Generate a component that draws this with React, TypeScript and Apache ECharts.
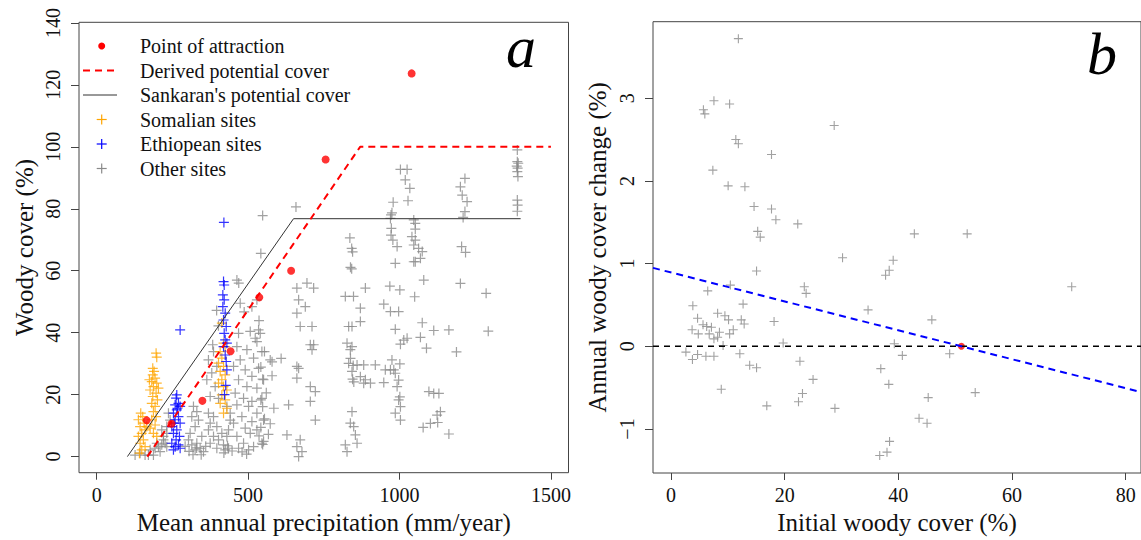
import React, { useEffect, useRef } from "react";
import * as echarts from "echarts";

// ---------- Panel a data ----------
const X_TICKS_A = [0, 500, 1000, 1500];
const Y_TICKS_A = [0, 20, 40, 60, 80, 100, 120, 140];

const ATTRACTION_POINTS: [number, number][] = [
  [165, 11.7], [247, 10.6], [349, 18], [442, 34], [537, 51.4], [642, 60], [756, 95.9], [1040, 123.7],
];
const DERIVED_COVER: [number, number][] = [[167, 0], [870, 100], [1500, 100]];
const SANKARAN_COVER: [number, number][] = [[101.4, 0], [650, 76.8], [1400, 76.8]];

const SOMALIAN_SITES: [number, number][] = [
  [196.1, 33.4], [198.3, 32.1], [185.1, 26.4], [192.8, 25.3], [181.8, 24.2], [198.3, 23.7], [187.3, 22.6],
  [176.3, 21.5], [196.1, 20.5], [185.1, 19.4], [200.5, 18.3], [181.8, 17.2], [192.8, 16.2], [187.3, 14.5],
  [196.1, 12.9], [181.8, 11.9], [192.8, 10.2], [176.3, 9.2], [187.3, 7.5], [198.3, 6.5], [203.8, 22.1],
  [174, 24.8], [189.5, 27.5], [185.1, 28.5],
  [145.4, 14], [152, 12.9], [137.7, 11.9], [156.4, 10.8], [143.2, 9.7], [159.7, 8.6], [148.7, 7.5],
  [137.7, 6.5], [154.2, 5.4], [143.2, 4.3], [159.7, 3.2], [148.7, 2.2], [141, 1.1], [165.2, 9.7],
  [418.8, 36.6], [424.3, 35.5], [407.7, 33.9], [413.2, 31.8], [402.2, 30.2], [418.8, 29.1], [407.7, 27.5],
  [424.3, 26.4], [413.2, 24.8], [402.2, 23.7], [418.8, 22.6], [429.8, 21.5], [413.2, 19.9], [424.3, 18.3],
  [407.7, 17.2], [429.8, 15.6], [418.8, 14], [413.2, 43.1],
];

const ETHIOPIAN_SITES: [number, number][] = [
  [264.4, 19.9], [262.2, 18.9], [270, 17.2], [259, 16.7], [275.5, 16.2], [264.4, 15.1], [253.4, 14],
  [270, 12.9], [259, 11.9], [275.5, 10.8], [247.9, 9.7], [264.4, 8.6], [253.4, 7.5], [273.3, 6.5],
  [262.2, 5.4], [247.9, 4.3], [270, 3.8], [259, 3.2], [275.5, 2.7], [253.4, 2.2], [266.6, 15.6], [255.6, 10.8],
  [275.5, 40.9],
  [420, 75.6], [418.8, 56.5], [421, 55.4], [416.5, 52.2], [421, 50.6], [416.5, 48.4], [424.3, 46.3],
  [418.8, 44.1], [427.6, 42], [421, 39.8], [424.3, 37.7], [429.8, 36.6], [418.8, 35.5], [424.3, 32.8],
  [427.6, 30.7], [429.8, 28], [426, 23], [422, 20],
];

const OTHER_SITES: [number, number][] = [
  [126.7, 0.5], [143.2, 1.1], [159.7, 0.5], [176.3, 2.2], [192.8, 2.7], [203.8, 3.2], [214.8, 3.8],
  [225.9, 4.3], [209.3, 1.6], [187.3, 0.5], [231.4, 3.2], [170.7, 0.5], [220.4, 5.4], [198.3, 4.3],
  [214.8, 8.6], [231.4, 7.5], [220.4, 6.5], [236.9, 14], [242.4, 11.8], [231.4, 9.7],
  [319.5, 16.2], [330.6, 14.5], [314, 12.9], [336, 11.8], [325, 9.7], [308.5, 7.5], [347, 6.5],
  [330.6, 4.3], [314, 3.8], [341.6, 2.7], [303, 5.4], [325, 2.2], [352.6, 1.6],
  [292, 3.3], [305, 1.7], [318, 0.6], [330, 2.8], [345, 0.6], [360, 3.3],
  [369, 14], [385.7, 12.9], [374.7, 10.8], [396.7, 9.7], [369, 8.6], [385.7, 6.5], [402.2, 5.4],
  [418.7, 3.8], [374.7, 4.3], [396.7, 2.7], [424.3, 2.2], [435.3, 2.7], [385.7, 33.9], [369, 31.2],
  [396.7, 29.1], [380, 27], [363.6, 24.8], [391.2, 22.6], [374.7, 19.4], [402.2, 18.8], [429.8, 16.2],
  [440.8, 11.8], [435.3, 8.6], [413.2, 7.5], [429.8, 6.5], [440.8, 14], [396, 47.2], [402, 42.2], [383, 36.1],
  [420, 1.2], [432, 3.5], [447, 1.8], [480, 1.5], [495, 0.8],
  [468.4, 39.8], [507, 40.4], [534.5, 40.9], [529, 37.1], [462.9, 35.5], [496, 34.5], [545.5, 33.9],
  [473.9, 31.2], [518, 31.8], [573, 31.2], [451.8, 29.1], [490.4, 28], [534.5, 28.5], [512.5, 25.9],
  [468.4, 24.8], [551, 24.8], [496, 22.6], [529, 22.1], [457.3, 20.5], [484.9, 18.8], [512.5, 17.8],
  [545.5, 18.8], [462.9, 16.7], [501.5, 16.2], [529, 14], [479.4, 12.9], [512.5, 11.3], [551, 11.8],
  [451.8, 10.8], [490.4, 9.2], [529, 8.6], [507, 7.5], [462.9, 6.5], [545.5, 4.3], [484.9, 4.3],
  [518, 3.2], [468.4, 2.7], [501.5, 2.2], [551, 4.9], [523.5, 38.2], [540, 39.8], [548, 25], [560, 20.6],
  [542, 18.3], [585, 15.6], [554, 12.2], [573, 10.6], [567, 7.2], [548, 3.9], [536, 6.7], [542, 9.4],
  [548, 16.1], [579, 30.6], [554, 33.9], [542, 28.9], [579, 26.1], [609, 31.7], [473.9, 49.5],
  [512.5, 48.4], [529, 50.6], [536, 43.9], [487, 46.7], [463, 57], [469, 56], [548, 77.8], [542, 65.6],
  [658, 80.6], [661, 54.4], [694.3, 56], [716.4, 54.4], [666.8, 50.6], [688.8, 48.4], [661, 46.3],
  [672, 42], [711, 42], [705.4, 36.1], [716.4, 36.1], [711, 34.5], [661, 29.1], [666.8, 28.5], [661, 25.3],
  [705.4, 22.6], [721.9, 21], [705.4, 17.8], [721.9, 11.8], [633.7, 16.7], [628.2, 7], [672, 5.4],
  [661, 3.2], [677.8, 1.6], [666.8, 0],
  [821, 51.7], [848, 51.7], [870.7, 47.9], [887.2, 54.4], [832, 42], [843, 42], [870.7, 43.6],
  [826.6, 36.6], [843, 35.5], [837.6, 34.5], [859.7, 29.6], [881.7, 29.6], [832, 30.1], [843, 27.5],
  [870.7, 25.8], [881.7, 23.7], [887.2, 24.8], [843, 14.5], [837.6, 10.8], [848.6, 9.7], [854.2, 7],
  [859.7, 4.3], [821, 3.8], [826.6, 1.6], [836, 70.6], [842, 67.2], [845, 66.1], [838, 61.1], [842, 60.6],
  [838, 31.7], [847, 29.4], [845, 25], [849, 24.1],
  [1003, 92.7], [1025, 92.7], [1019, 89.3], [1034, 86.6], [1028, 82.6], [979, 82.1], [975, 78.7],
  [972, 78], [970, 76.9], [1047, 76.4], [1052, 75.3], [1052, 73.4], [973, 73.7], [972, 71.5], [978, 69.9],
  [992, 67.8], [1041, 71], [1052, 69.9], [1047, 68.3], [1063, 67.2], [1075, 66.2], [1069, 64],
  [1052, 62.9], [1047, 62.9], [986, 62.4], [1080, 57], [968, 55], [1001, 53.8], [1050, 51.6], [948, 49.2],
  [970, 46.8], [997, 46.8], [986, 41.1], [1075, 43.2], [1113, 40.7], [1163, 40.9], [1293, 40.5],
  [1286, 52.7], [1201, 55.9], [1205, 67.8], [1218, 65.9], [1216, 89.8], [1201, 87.1], [1207, 84.4],
  [1223, 82.3], [1216, 79.1], [1210, 77.2], [1014, 37.6], [1003, 36.3], [1025, 38.2], [1069, 38.5],
  [1089, 35], [1188, 33.8], [975, 31.2], [1001, 29.9], [981, 28], [986, 26.9], [997, 24.7], [992, 22.6],
  [1001, 19.3], [997, 18.3], [1003, 16.1], [986, 14], [1003, 11.8], [920, 29.6], [904, 23.7], [948, 23.9],
  [953, 28], [970, 28], [1097, 21], [1113, 20.4], [1130, 20.4], [1135, 14.5], [1124, 13.4], [1126, 11],
  [1102, 10.7], [1078, 9.4], [1163, 7.3],
  [1389, 99], [1389, 95.2], [1392, 94.7], [1387, 93.8], [1390, 93.1], [1389, 92], [1391, 90.4],
  [1389, 82.8], [1390, 81.2], [1389, 79.2],
];

// ---------- Panel b data ----------
const X_TICKS_B = [0, 20, 40, 60, 80];
const Y_TICKS_B = [-1, 0, 1, 2, 3];

const COVER_CHANGE: [number, number][] = [
  [11.86, 3.72], [5.71, 2.86], [5.96, 2.81], [7.56, 2.97], [10.32, 2.93], [28.72, 2.67], [11.41, 2.5],
  [11.86, 2.45], [17.69, 2.32], [7.37, 2.13], [10.06, 1.94], [13.01, 1.93], [14.62, 1.69], [17.69, 1.66],
  [18.46, 1.53], [22.31, 1.48], [15.26, 1.39], [15.71, 1.32], [42.82, 1.36], [52.12, 1.36], [30.19, 1.07],
  [39.1, 1.04], [38.4, 0.92], [37.76, 0.86], [15.06, 0.91], [70.51, 0.72], [10.45, 0.74], [6.47, 0.67],
  [23.46, 0.72], [23.78, 0.64], [3.85, 0.49], [12.69, 0.51], [34.68, 0.44], [4.68, 0.34], [8.21, 0.4],
  [9.49, 0.37], [10.13, 0.32], [12.37, 0.32], [12.88, 0.27], [18.14, 0.3], [45.9, 0.32], [3.72, 0.2],
  [5.64, 0.26], [6.28, 0.24], [7.12, 0.23], [4.81, 0.15], [6.73, 0.15], [8.53, 0.17], [10.96, 0.2],
  [7.56, 0.09], [8.21, 0.11], [10.32, 0.15], [19.74, 0.04], [9.17, 0.01], [39.3, 0.03], [2.63, -0.07],
  [3.78, -0.16], [4.68, -0.1], [6.15, -0.12], [7.56, -0.12], [12.12, -0.09], [40.71, -0.11], [49.04, -0.09],
  [22.69, -0.18], [13.85, -0.23], [15.06, -0.26], [36.92, -0.27], [25.0, -0.4], [38.33, -0.46],
  [8.85, -0.52], [53.53, -0.56], [23.14, -0.57], [22.44, -0.67], [16.86, -0.72], [28.85, -0.75],
  [45.26, -0.62], [43.65, -0.87], [45.06, -0.93], [38.46, -1.15], [38.01, -1.28], [36.73, -1.32],
];
const EQUILIBRIUM_POINT: [number, number][] = [[51.1, 0]];
const TREND_LINE: [number, number][] = [[-3.16, 0.948], [82.7, -0.553]];
const ZERO_LINE: [number, number][] = [[-3.16, 0], [82.7, 0]];

const FONT = "'Liberation Serif', 'Times New Roman', serif";
const PLUS = "path://M0,5L10,5M5,0L5,10";
const GRAY = "#8a8a8a";
const ORANGE = "#ffa500";
const BLUE = "#0000ff";
const RED = "#ff0000";
const AXIS_COLOR = "#444";

const fmt = (v: number) => (v < 0 ? "\u2212" + Math.abs(v) : String(v));

function axisCommon(ticks: number[], isY: boolean) {
  return {
    type: "value" as const,
    axisLine: { show: false, onZero: false },
    splitLine: { show: false },
    axisTick: { show: true, customValues: ticks, length: isY ? 8 : 7, lineStyle: { color: AXIS_COLOR, width: 1 } },
    axisLabel: {
      customValues: ticks,
      formatter: fmt,
      fontFamily: FONT,
      fontSize: 20,
      color: "#111",
      margin: isY ? 16 : 12,
      rotate: isY ? 90 : 0,
    },
    nameLocation: "middle" as const,
    nameTextStyle: { fontFamily: FONT, fontSize: 25, color: "#111" },
  };
}

function plusLines(cx: number, cy: number, color: string) {
  return [
    { type: "line", shape: { x1: cx - 5, y1: cy, x2: cx + 5, y2: cy }, style: { stroke: color, lineWidth: 1.2 } },
    { type: "line", shape: { x1: cx, y1: cy - 5, x2: cx, y2: cy + 5 }, style: { stroke: color, lineWidth: 1.2 } },
  ];
}

export default function App() {
  const ref = useRef<HTMLDivElement>(null);
  useEffect(() => {
    if (!ref.current) return;
    const chart = echarts.init(ref.current, null, { renderer: "svg" });
    const legendX = 140;
    const legendRows = [46, 70.5, 95, 119.5, 144, 168.5];
    const legendTexts = [
      "Point of attraction",
      "Derived potential cover",
      "Sankaran's potential cover",
      "Somalian sites",
      "Ethiopean sites",
      "Other sites",
    ];
    const graphic: any[] = [
      { type: "circle", shape: { cx: 101.7, cy: legendRows[0], r: 3.5 }, style: { fill: RED } },
      { type: "line", shape: { x1: 83, y1: legendRows[1], x2: 117, y2: legendRows[1] }, style: { stroke: RED, lineWidth: 2, lineDash: [7, 5] } },
      { type: "line", shape: { x1: 83, y1: legendRows[2], x2: 117, y2: legendRows[2] }, style: { stroke: "#333", lineWidth: 1 } },
      ...plusLines(101.7, legendRows[3], ORANGE),
      ...plusLines(101.7, legendRows[4], BLUE),
      ...plusLines(101.7, legendRows[5], GRAY),
      ...legendTexts.map((t, i) => ({
        type: "text",
        x: legendX,
        y: legendRows[i],
        style: { text: t, fontFamily: FONT, fontSize: 20, fill: "#111", verticalAlign: "middle", align: "left" },
      })),
      { type: "text", x: 521, y: 46.6, style: { text: "a", fontFamily: FONT, fontStyle: "italic", fontSize: 60, fill: "#000", align: "center", verticalAlign: "middle" } },
      { type: "text", x: 1102, y: 53.6, style: { text: "b", fontFamily: FONT, fontStyle: "italic", fontSize: 60, fill: "#000", align: "center", verticalAlign: "middle" } },
    ];

    chart.setOption({
      animation: false,
      backgroundColor: "#fff",
      textStyle: { fontFamily: FONT },
      grid: [
        { left: 79, top: 22.3, width: 489.5, height: 450.4, show: true, borderColor: AXIS_COLOR, borderWidth: 1, backgroundColor: "transparent" },
        { left: 653, top: 21.7, width: 489.5, height: 451.6, show: true, borderColor: AXIS_COLOR, borderWidth: 1, backgroundColor: "transparent" },
      ],
      xAxis: [
        { ...axisCommon(X_TICKS_A, false), gridIndex: 0, min: -58.5, max: 1558, name: "Mean annual precipitation (mm/year)", nameGap: 37 },
        { ...axisCommon(X_TICKS_B, false), gridIndex: 1, min: -3.16, max: 82.7, name: "Initial woody cover (%)", nameGap: 37 },
      ],
      yAxis: [
        { ...axisCommon(Y_TICKS_A, true), gridIndex: 0, min: -5.2, max: 140.2, name: "Woody cover (%)", nameGap: 42 },
        { ...axisCommon(Y_TICKS_B, true), gridIndex: 1, min: -1.532, max: 3.925, name: "Annual woody cover change (%)", nameGap: 43 },
      ],
      graphic,
      series: [
        {
          type: "scatter", xAxisIndex: 0, yAxisIndex: 0, data: OTHER_SITES, symbol: PLUS, symbolSize: 10,
          itemStyle: { color: "transparent", borderColor: GRAY, borderWidth: 1.2 },
        },
        {
          type: "scatter", xAxisIndex: 0, yAxisIndex: 0, data: SOMALIAN_SITES, symbol: PLUS, symbolSize: 10,
          itemStyle: { color: "transparent", borderColor: ORANGE, borderWidth: 1.2 },
        },
        {
          type: "scatter", xAxisIndex: 0, yAxisIndex: 0, data: ETHIOPIAN_SITES, symbol: PLUS, symbolSize: 10,
          itemStyle: { color: "transparent", borderColor: BLUE, borderWidth: 1.2 },
        },
        {
          type: "line", xAxisIndex: 0, yAxisIndex: 0, data: SANKARAN_COVER, showSymbol: false,
          lineStyle: { color: "#333", width: 1 },
        },
        {
          type: "line", xAxisIndex: 0, yAxisIndex: 0, data: DERIVED_COVER, showSymbol: false,
          lineStyle: { color: RED, width: 2, type: [7, 5] },
        },
        {
          type: "scatter", xAxisIndex: 0, yAxisIndex: 0, data: ATTRACTION_POINTS, symbol: "circle", symbolSize: 8,
          itemStyle: { color: RED },
        },
        {
          type: "scatter", xAxisIndex: 1, yAxisIndex: 1, data: COVER_CHANGE, symbol: PLUS, symbolSize: 9,
          itemStyle: { color: "transparent", borderColor: GRAY, borderWidth: 1.1 },
        },
        {
          type: "line", xAxisIndex: 1, yAxisIndex: 1, data: ZERO_LINE, showSymbol: false,
          lineStyle: { color: "#000", width: 1.5, type: [6, 5] },
        },
        {
          type: "line", xAxisIndex: 1, yAxisIndex: 1, data: TREND_LINE, showSymbol: false,
          lineStyle: { color: BLUE, width: 2, type: [7, 5] },
        },
        {
          type: "scatter", xAxisIndex: 1, yAxisIndex: 1, data: EQUILIBRIUM_POINT, symbol: "circle", symbolSize: 7,
          itemStyle: { color: RED },
        },
      ],
    });
    return () => chart.dispose();
  }, []);
  return (
    <div
      ref={ref}
      style={{ position: "absolute", left: 0, top: 0, width: 1141, height: 540, background: "#fff" }}
    />
  );
}
